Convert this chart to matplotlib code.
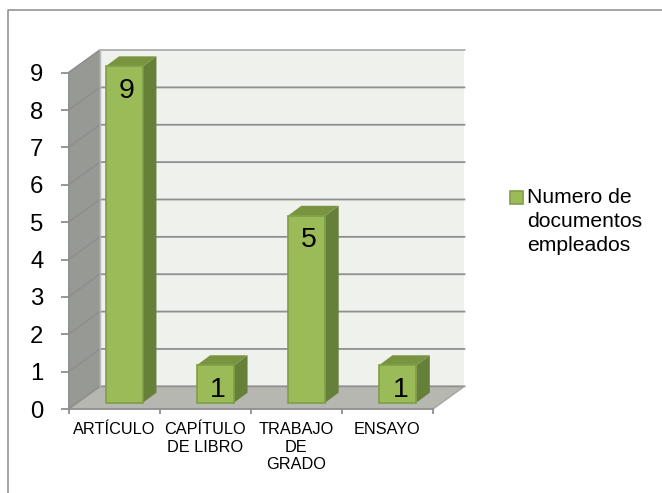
import matplotlib
matplotlib.use('Agg')
import matplotlib.pyplot as plt
from matplotlib.legend_handler import HandlerPatch
from matplotlib.lines import Line2D
from matplotlib.patches import Polygon, Rectangle

categories = ['ARTÍCULO', 'CAPÍTULO\nDE LIBRO', 'TRABAJO\nDE\nGRADO', 'ENSAYO']
valores = [9, 1, 5, 1]
serie = 'Numero de\ndocumentos\nempleados'
yticks = list(range(10))

plt.rcParams['font.family'] = ['Liberation Sans', 'DejaVu Sans']

# profundidad del "3D" en unidades de datos
DX, DY = 0.345, 0.607      # pared
BDX, BDY = 0.148, 0.268    # barra
BX, BY = 0.112, 0.17       # desplazamiento de la barra sobre el piso
ANCHO = 0.41

GRIS = '#8f8f8f'
VERDE, VERDE_LADO, VERDE_TOP, VERDE_BORDE = '#9bbb59', '#66803a', '#789440', '#7f9f45'

fig = plt.figure(figsize=(6.62, 4.93), dpi=100)
ax = fig.add_axes([68.5 / 662, 84 / 493, 364.5 / 662, 336.3 / 493])
n = len(categories)
ax.set_xlim(0, n)
ax.set_ylim(0, 9)
ax.patch.set_visible(False)


def poly(puntos, color, z, ec='none', lw=0):
    ax.add_patch(Polygon(puntos, closed=True, fc=color, ec=ec, lw=lw, zorder=z, clip_on=False))


# paredes y piso
poly([(DX, DY), (n + DX, DY), (n + DX, 9 + DY), (DX, 9 + DY)], '#eff1ec', 1)
poly([(0, 0), (DX, DY), (DX, 9 + DY), (0, 9)], '#979a94', 1)
poly([(0, 0), (n, 0), (n + DX, DY), (DX, DY)], '#b5b7b0', 1)

# rejilla
for v in yticks:
    ax.plot([0, DX, n + DX], [v, v + DY, v + DY], color=GRIS, lw=1.3, zorder=2, clip_on=False)
ax.plot([DX, n + DX], [9 + DY, 9 + DY], color='#b8b8b8', lw=1.3, zorder=2, clip_on=False)
ax.plot([DX, DX], [DY, 9 + DY], color='#b8b8b8', lw=1.0, zorder=2, clip_on=False)
ax.plot([n, n + DX], [0, DY], color='#a5a5a5', lw=1.0, zorder=2, clip_on=False)

# barras
pos = [i + 0.5 + BX for i in range(n)]
bars = ax.bar(pos, valores, width=ANCHO, bottom=BY, color=VERDE, edgecolor=VERDE_BORDE,
              linewidth=1.2, zorder=5, clip_on=False)
for x, v in zip(pos, valores):
    r = x + ANCHO / 2
    l = x - ANCHO / 2
    t = v + BY
    poly([(r, BY), (r + BDX, BY + BDY), (r + BDX, t + BDY), (r, t)], VERDE_LADO, 4)
    poly([(l, t), (r, t), (r + BDX, t + BDY), (l + BDX, t + BDY)], VERDE_TOP, 4)
    ax.text(x + 0.03, t - 0.65, str(v), ha='center', va='center', fontsize=20.5,
            color='black', zorder=6)

# ejes
for s in ['top', 'right']:
    ax.spines[s].set_visible(False)
for s in ['left', 'bottom']:
    ax.spines[s].set_color(GRIS)
    ax.spines[s].set_linewidth(1.3)
    ax.spines[s].set_zorder(3)
ax.set_yticks(yticks)
ax.tick_params(axis='y', length=6, width=1.3, color=GRIS, labelsize=17.2, pad=12)
ax.set_xticks(range(n + 1))
ax.set_xticklabels([])
ax.tick_params(axis='x', which='major', length=3.5, width=1.3, color=GRIS)
ax.set_xticks([i + 0.5 for i in range(n)], minor=True)
ax.set_xticklabels(categories, minor=True, fontsize=11.7, linespacing=1.22)
ax.tick_params(axis='x', which='minor', length=0, pad=9.5)


# cuadro de la leyenda alineado con la primera linea
def cuadro(legend, orig_handle, xdescent, ydescent, width, height, fontsize):
    return Rectangle((-xdescent, -ydescent + 17.3), width, height)


leg = fig.legend(handles=[bars[0]], labels=[serie], loc='upper left',
                 bbox_to_anchor=(510 / 662, 1 - 188 / 493),
                 frameon=False, fontsize=15.2, handlelength=0.62, handleheight=0.62,
                 handletextpad=0.19, borderpad=0, borderaxespad=0, labelspacing=0,
                 handler_map={Rectangle: HandlerPatch(patch_func=cuadro)})
leg.get_texts()[0].set_linespacing(1.32)

# marco exterior (solo arriba e izquierda)
fig.add_artist(Line2D([8 / 662, 8 / 662, 1], [0, 1 - 10 / 493, 1 - 10 / 493],
                      color='#8c8c8c', lw=1.1))

fig.savefig('out.png', dpi=100)
